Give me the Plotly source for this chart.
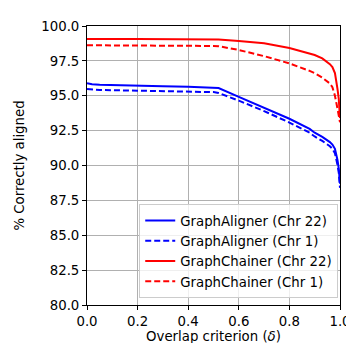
import plotly.graph_objects as go

overlap = [0, 0.02, 0.05, 0.1, 0.2, 0.3, 0.4, 0.5, 0.52, 0.6, 0.7, 0.8, 0.88, 0.9,
           0.93, 0.95, 0.96, 0.97, 0.98, 0.99, 0.995, 1.0]

ga_chr22 = [95.9, 95.82, 95.78, 95.75, 95.71, 95.68, 95.64, 95.6, 95.55, 94.92, 94.15,
            93.35, 92.62, 92.35, 92.05, 91.82, 91.68, 91.5, 91.2, 90.4, 89.8, 88.7]
ga_chr1 = [95.48, 95.45, 95.42, 95.4, 95.37, 95.34, 95.3, 95.26, 95.2, 94.65, 93.9,
           93.08, 92.35, 92.08, 91.76, 91.52, 91.38, 91.2, 90.88, 90.05, 89.5, 88.4]
gc_chr22 = [99.07, 99.06, 99.06, 99.06, 99.06, 99.05, 99.05, 99.04, 99.03, 98.92, 98.76,
            98.42, 98.05, 97.92, 97.68, 97.42, 97.26, 97.05, 96.62, 95.5, 94.8, 93.4]
gc_chr1 = [98.62, 98.62, 98.61, 98.61, 98.61, 98.6, 98.59, 98.57, 98.55, 98.28, 97.84,
           97.32, 96.78, 96.62, 96.3, 96.05, 95.88, 95.62, 95.0, 94.08, 93.6, 93.1]

series = [
    ("GraphAligner (Chr 22)", ga_chr22, "#0000ff", "solid"),
    ("GraphAligner (Chr 1)", ga_chr1, "#0000ff", "6px,3px"),
    ("GraphChainer (Chr 22)", gc_chr22, "#ff0000", "solid"),
    ("GraphChainer (Chr 1)", gc_chr1, "#ff0000", "6px,3px"),
]

x_ticks = [0.0, 0.2, 0.4, 0.6, 0.8, 1.0]
y_ticks = [80.0, 82.5, 85.0, 87.5, 90.0, 92.5, 95.0, 97.5, 100.0]

fig = go.Figure()
for name, ys, color, dash in series:
    fig.add_trace(go.Scatter(x=overlap, y=ys, mode="lines", name=name,
                             line=dict(color=color, width=2, dash=dash)))

font = dict(family="DejaVu Sans", size=13.3, color="black")
axis_common = dict(showline=True, linecolor="black", linewidth=1, mirror=True,
                   ticks="outside", ticklen=4, tickcolor="black",
                   showgrid=True, gridcolor="#b0b0b0", gridwidth=1,
                   zeroline=False, tickfont=font)

fig.update_layout(
    width=354, height=343,
    margin=dict(l=75, r=12, t=11, b=40),
    paper_bgcolor="white", plot_bgcolor="white",
    font=font,
    showlegend=True,
    legend=dict(x=0.993, y=0.024, xanchor="right", yanchor="bottom",
                bgcolor="rgba(255,255,255,0.8)", bordercolor="#cccccc", borderwidth=1,
                font=font, tracegroupgap=0),
    xaxis=dict(range=[0, 1], tickvals=x_ticks, ticktext=[f"{v:.1f}" for v in x_ticks],
               title=dict(text="Overlap criterion (<i>δ</i>)", font=font, standoff=2),
               **axis_common),
    yaxis=dict(range=[80, 100], tickvals=y_ticks, ticktext=[f"{v:.1f}" for v in y_ticks],
               title=dict(text="% Correctly aligned", font=font, standoff=13),
               **axis_common),
)

fig.write_html("out.html")
